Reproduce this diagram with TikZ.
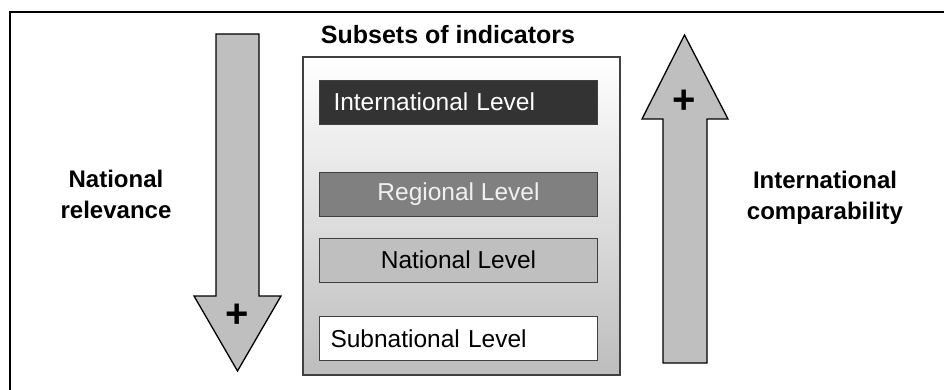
\documentclass[tikz,border=0pt]{standalone}
\usepackage{fontspec}
\setmainfont{Liberation Sans}
\begin{document}
\begin{tikzpicture}[x=1pt,y=-1pt,
  levelbox/.style={draw=black!75,line width=0.9pt,minimum width=278pt,minimum height=44pt,
    inner sep=0pt,font=\fontsize{24.5}{28}\selectfont},
  bigarrow/.style={draw=black,line width=1.3pt,fill=black!25,line join=miter},
  sidelabel/.style={font=\fontsize{24}{31}\selectfont\bfseries,align=center},
  plussign/.style={font=\fontsize{40}{40}\selectfont\bfseries,inner sep=0pt}]
\clip (0,0) rectangle (944,390);
\fill[white] (0,0) rectangle (944,390);
% outer frame
\draw[line width=1.8pt] (10,12) rectangle (960,410);

% title and container
\node[font=\fontsize{25}{28}\selectfont\bfseries,anchor=base] (title) at (448,44) {Subsets of indicators};
\shade[top color=white,bottom color=black!26] (303,57) rectangle (620,375);
\draw[draw=black!75,line width=1.1pt] (303,57) rectangle (620,375);

% level boxes
\node[levelbox,fill=black!80,text=white,text width=250pt,align=left] (intl) at (458.5,102) {International Level};
\node[levelbox,fill=black!50,text=white!94!black] (reg) at (458.5,194) {Regional Level};
\node[levelbox,fill=black!25,text=black] (nat) at (458.5,260) {National Level};
\node[levelbox,fill=white,text=black,text width=256pt,align=left] (sub) at (458.5,338.5) {Subnational Level};

% downward arrow (national relevance)
\draw[bigarrow] (216,34) -- (259,34) -- (259,296) -- (281,296) -- (237.5,371) -- (194,296) -- (216,296) -- cycle;
\node[plussign] (plusdown) at (237.5,316) {+};
\node[sidelabel,anchor=base] (nrel) at (116,218) {National\\relevance};

% upward arrow (international comparability)
\draw[bigarrow] (684.5,35) -- (728,119) -- (707,119) -- (707,363) -- (663,363) -- (663,119) -- (642,119) -- cycle;
\node[plussign] (plusup) at (684.5,102) {+};
\node[sidelabel,anchor=base] (icomp) at (825,219) {International\\comparability};
\end{tikzpicture}
\end{document}
